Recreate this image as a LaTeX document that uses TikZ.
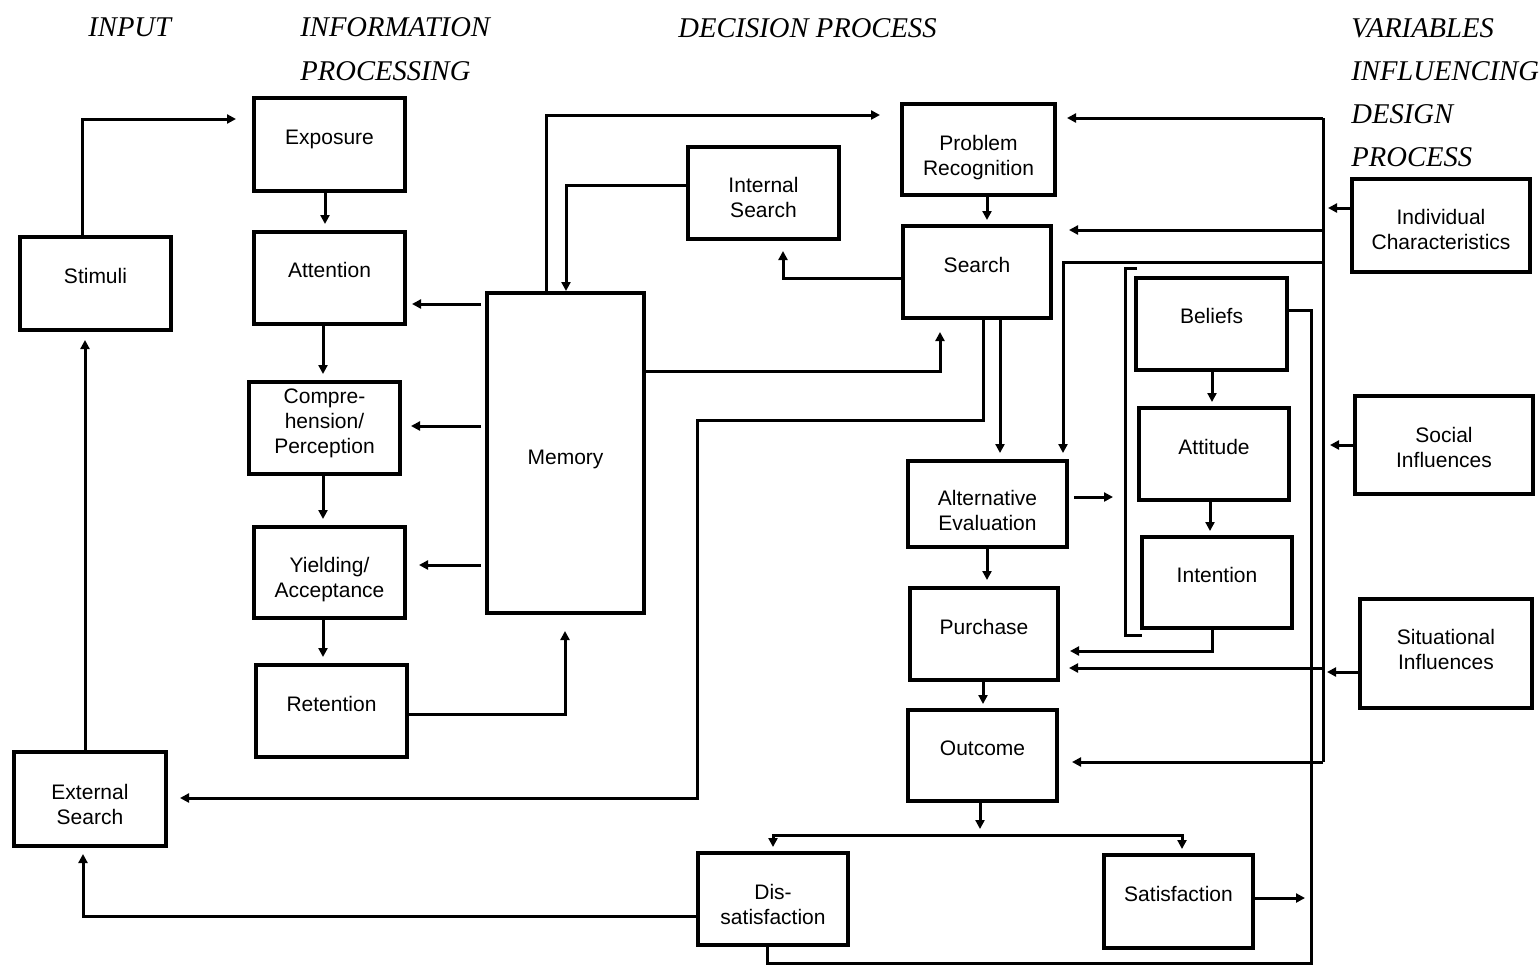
\documentclass[tikz,border=0pt]{standalone}
\usepackage{fontspec}
\setmainfont{Liberation Serif}
\setsansfont{Liberation Sans}
\usetikzlibrary{arrows.meta}
\newcommand\bx[7][3.75pt]{%
  \node[box, minimum width={(#5-#3)*0.5pt}, minimum height={(#6-#4)*0.5pt}] (#2) at ({(#3+#5)/2},{(#4+#6)/2}) {};
  \node[boxtxt, yshift=#1] (#2-t) at (#2.center) {#7};}
\begin{document}
\begin{tikzpicture}[x=0.5pt,y=-0.5pt,
  box/.style={draw, line width=2pt, inner sep=0pt},
  boxtxt/.style={align=center, inner sep=0pt,
    font=\sffamily\fontsize{10.5}{12.5}\selectfont},
  ln/.style={line width=1.5pt, line join=miter},
  arr/.style={ln, -{Triangle[length=4.5pt,width=4.5pt]}},
  darr/.style={ln, {Triangle[length=4.5pt,width=4.5pt]}-{Triangle[length=4.5pt,width=4.5pt]}},
  hd/.style={font=\fontsize{14.3}{17}\selectfont\itshape, anchor=base west, inner sep=0pt}]
\useasboundingbox (0,0) rectangle (1540,966);

% headers
\node[hd] (hInput) at (88,36) {INPUT};
\node[hd] (hInfo1) at (300,36) {INFORMATION};
\node[hd] (hInfo2) at (300,80) {PROCESSING};
\node[hd] (hDec) at (678,37) {DECISION PROCESS};
\node[hd] (hVar1) at (1351,37) {VARIABLES};
\node[hd] (hVar2) at (1351,80) {INFLUENCING};
\node[hd] (hVar3) at (1351,123) {DESIGN};
\node[hd] (hVar4) at (1351,166) {PROCESS};

% boxes
\bx[4pt]{stim}{20}{237}{171}{330}{Stimuli}
\bx[-2.5pt]{ext}{14}{752}{166}{846}{External\\Search}
\bx[2.5pt]{expo}{254}{98}{405}{191}{Exposure}
\bx[4pt]{att}{254}{232}{405}{324}{Attention}
\bx[2.5pt]{comp}{249}{382}{400}{474}{Compre-\\hension/\\Perception}
\bx[-3.5pt]{yield}{254}{527}{405}{618}{Yielding/\\Acceptance}
\bx[3.5pt]{ret}{256}{665}{407}{757}{Retention}
\bx[-3pt]{mem}{487}{293}{644}{613}{Memory}
\bx[-2pt]{ints}{688}{147}{839}{239}{Internal\\Search}
\bx[-4pt]{prob}{902}{104}{1055}{195}{Problem\\Recognition}
\bx[3.5pt]{srch}{903}{226}{1051}{318}{Search}
\bx[-3pt]{alt}{908}{461}{1067}{547}{Alternative\\Evaluation}
\bx[3.5pt]{pur}{910}{588}{1058}{680}{Purchase}
\bx[3.5pt]{out}{908}{710}{1057}{801}{Outcome}
\bx[-2.5pt]{dis}{698}{853}{848}{945}{Dis-\\satisfaction}
\bx[4pt]{sat}{1104}{855}{1253}{948}{Satisfaction}
\bx[4pt]{bel}{1136}{278}{1287}{370}{Beliefs}
\bx[3.5pt]{attd}{1139}{408}{1289}{500}{Attitude}
\bx[4pt]{intn}{1142}{537}{1292}{628}{Intention}
\bx[-2pt]{indiv}{1352}{179}{1530}{272}{Individual\\Characteristics}
\bx[-1pt]{soc}{1355}{396}{1533}{494}{Social\\Influences}
\bx[2pt]{sit}{1360}{599}{1532}{708}{Situational\\Influences}

% input side
\draw[arr, shorten >=8pt] (stim.north -| 82,0) |- (expo.west |- 0,119);
\draw[arr, shorten >=4pt] (ext.north -| 85,0) -- (stim.south -| 85,0);
\draw[arr, shorten >=3pt] (dis.west |- 0,916) -| (ext.south -| 83,0);

% information processing chain
\draw[arr, shorten >=3pt] (expo.south -| 325,0) -- (att.north -| 325,0);
\draw[arr, shorten >=3pt] (att.south -| 323,0) -- (comp.north -| 323,0);
\draw[arr, shorten >=3pt] (comp.south -| 323,0) -- (yield.north -| 323,0);
\draw[arr, shorten >=3pt] (yield.south -| 323,0) -- (ret.north -| 323,0);

% memory links
\draw[arr, shorten <=2pt, shorten >=2.5pt] (mem.west |- 0,304) -- (att.east |- 0,304);
\draw[arr, shorten <=2pt, shorten >=4.5pt] (mem.west |- 0,426) -- (comp.east |- 0,426);
\draw[arr, shorten <=2pt, shorten >=6pt] (mem.west |- 0,565) -- (yield.east |- 0,565);
\draw[arr, shorten >=8pt] (ret.east |- 0,714) -| (mem.south -| 565,0);
\draw[arr] (ints.west |- 0,185) -| (mem.north -| 566,0);
\draw[arr, shorten >=10pt] (mem.north -| 546,0) |- (prob.west |- 0,115);
\draw[arr, shorten >=6pt] (mem.east |- 0,371) -| (srch.south -| 940,0);

% search links
\draw[arr, shorten >=5pt] (srch.west |- 0,278) -| (ints.south -| 783,0);
\coordinate (sbend) at (697,420);
\draw[arr, shorten >=6pt] (srch.south -| 983,0) |- (sbend) |- (ext.east |- 0,798);
\draw[arr, shorten >=3pt] (srch.south -| 1000,0) -- (alt.north -| 1000,0);
\draw[arr, shorten >=2pt] (prob.south -| 987,0) -- (srch.north -| 987,0);

% decision chain
\draw[arr, shorten >=3pt] (alt.south -| 987,0) -- (pur.north -| 987,0);
\draw[arr, shorten >=2pt] (pur.south -| 983,0) -- (out.north -| 983,0);
\coordinate (ojoin) at (980,829);
\draw[arr] (out.south -| 980,0) -- (ojoin);
\coordinate (dl) at (773,835);
\coordinate (dr) at (1182,835);
\draw[darr, shorten <=2pt, shorten >=2pt] (dis.north -| dl) -- (dl) -- (dr) -- (sat.north -| dr);

% beliefs group
\draw[arr, shorten >=2pt] (bel.south -| 1212,0) -- (attd.north -| 1212,0);
\draw[arr, shorten >=2pt] (attd.south -| 1210,0) -- (intn.north -| 1210,0);
\draw[arr, shorten >=5pt] (intn.south -| 1212,0) |- (pur.east |- 0,651);
\draw[ln] (1137,268) -- (1125,268) -- (1125,635) -- (1142,635);
\coordinate (altTip) at (1113,497);
\draw[arr, shorten <=2.5pt] (alt.east |- altTip) -- (altTip);

% variables bus
\coordinate (busT) at (1323,118);
\coordinate (busB) at (1323,762);
\draw[ln] (busT) -- (busB);
\draw[arr, shorten >=5pt] (busT) -- (prob.east |- busT);
\draw[arr, shorten >=8pt] (busT |- 0,230) -- (srch.east |- 0,230);
\draw[arr, shorten >=3pt] (busT |- 0,262) -| (alt.north -| 1063,0);
\draw[arr, shorten >=4.5pt] (busT |- 0,668) -- (pur.east |- 0,668);
\draw[arr, shorten >=6.5pt] (busB) -- (out.east |- busB);
\draw[arr, shorten >=2.5pt] (indiv.west |- 0,208) -- (busT |- 0,208);
\draw[arr, shorten >=3.5pt] (soc.west |- 0,445) -- (busT |- 0,445);
\draw[arr, shorten >=2pt] (sit.west |- 0,672) -- (busT |- 0,672);

% feedback bus from beliefs / satisfaction to dissatisfaction
\coordinate (fbB) at (1311,963);
\draw[ln] (bel.east |- 0,310) -| (fbB) -| (dis.south -| 767,0);
\draw[arr, shorten >=3pt] (sat.east |- 0,898) -- (fbB |- 0,898);
\end{tikzpicture}
\end{document}
